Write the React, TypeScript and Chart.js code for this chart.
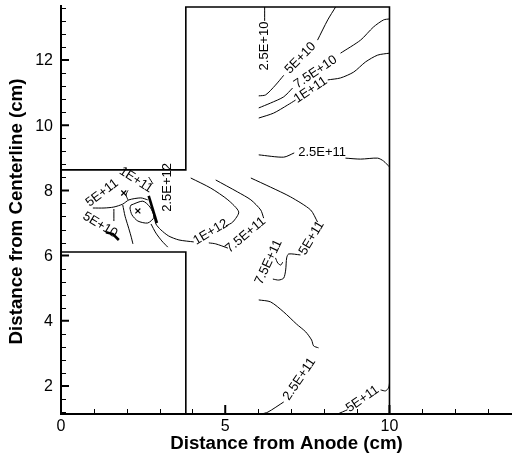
import React, { useEffect, useRef } from "react";
import { Chart, registerables } from "chart.js";
Chart.register(...registerables);

type P = [number, number];

// Axis ranges and ticks
const xMin = 0;
const xMax = 13.73;
const yMin = 1.141;
const yMax = 13.626;
const xMajorTicks = [0, 5, 10];
const xTickLabels = ["0", "5", "10"];
const xMinorTicks = [1, 2, 3, 4, 6, 7, 8, 9, 11, 12, 13];
const yMajorTicks = [2, 4, 6, 8, 10, 12];
const yTickLabels = ["2", "4", "6", "8", "10", "12"];
const yMinorTicks = [1.2, 1.6, 2.4, 2.8, 3.2, 3.6, 4.4, 4.8, 5.2, 5.6, 6.4, 6.8, 7.2, 7.6, 8.4, 8.8, 9.2, 9.6, 10.4, 10.8, 11.2, 11.6, 12.4, 12.8, 13.2, 13.6];
const xTitle = "Distance from Anode (cm)";
const yTitle = "Distance from Centerline (cm)";

// Geometry boundaries
const boundaryUpper: P[] = [[0, 8.63], [3.8, 8.63], [3.8, 13.626], [10, 13.626], [10, 1.141]];
const boundaryLower: P[] = [[0, 6.11], [3.8, 6.11], [3.8, 1.141]];

// Contour segments (gaps where labels sit)
const c25e10a: P[] = [[6.2, 13.626], [6.2, 13.2]];
const c5e10a: P[] = [[6.02, 10.9], [6.23, 10.93], [6.53, 11.23], [6.78, 11.53]];
const c5e10b: P[] = [[7.81, 12.61], [8.12, 13.23], [8.36, 13.626]];
const c75e10a: P[] = [[6.02, 10.53], [6.38, 10.68], [6.78, 10.87], [7.05, 11.14]];
const c75e10b: P[] = [[8.51, 12.21], [9.12, 12.61], [9.51, 13.01], [9.82, 13.23], [10.0, 13.26]];
const c1e11a: P[] = [[6.02, 10.22], [6.47, 10.37], [6.9, 10.62], [7.14, 10.77]];
const c1e11b: P[] = [[8.12, 11.39], [8.51, 11.45], [8.91, 11.63], [9.27, 11.94], [9.64, 12.15], [10.0, 12.21]];
const c25e11a: P[] = [[6.02, 9.09], [6.78, 9.02], [7.1, 9.15]];
const c25e11b: P[] = [[8.66, 8.99], [9.12, 8.96], [9.64, 8.99], [9.82, 8.9], [10.0, 8.72]];
const c5e11a: P[] = [[5.78, 8.38], [6.38, 8.1], [6.99, 7.8], [7.6, 7.4], [7.81, 7.03]];
const c5e11b: P[] = [[7.29, 6.02], [6.93, 6.05], [6.87, 5.93], [6.84, 5.56], [6.78, 5.31], [6.63, 5.25], [6.45, 5.28]];
const c75e11loop: P[] = [[6.53, 5.93], [6.6, 5.77], [6.69, 5.71], [6.75, 5.8]];
const c75e11a: P[] = [[4.71, 8.32], [5.38, 7.95], [5.78, 7.71], [6.08, 7.4], [6.17, 7.15]];
const c75e11b: P[] = [[5.08, 6.23], [4.71, 6.36], [4.5, 6.39]];
const c1e12a: P[] = [[3.95, 8.38], [4.56, 8.07], [5.08, 7.71], [5.41, 7.34], [5.23, 7.03], [5.02, 6.91]];
const c1e12b: P[] = [[4.04, 6.42], [3.59, 6.48], [3.28, 6.6], [3.04, 6.79], [2.89, 6.97], [2.83, 7.25]];
const c25e11c: P[] = [[6.02, 4.64], [6.38, 4.58], [6.78, 4.27], [7.17, 3.9], [7.45, 3.66], [7.63, 3.41], [7.69, 3.23], [7.84, 3.17]];
const c25e11d: P[] = [[6.78, 1.51], [6.3, 1.2], [6.1, 1.141]];
const c5e11c: P[] = [[8.42, 1.141], [8.72, 1.27]];
const c5e11d: P[] = [[9.73, 1.88], [9.88, 1.85], [9.97, 1.94], [10.0, 2.09], [10.0, 2.18]];
// Dense cluster near the anode
const k1: P[] = [[0.97, 7.46], [1.31, 7.46], [1.61, 7.49], [1.88, 7.58], [2.07, 7.71], [2.43, 7.77], [2.64, 7.71]];
const k2: P[] = [[2.04, 7.71], [1.98, 7.86], [2.04, 8.0]];
const k3: P[] = [[1.61, 7.43], [1.61, 7.06]];
const k4: P[] = [[1.88, 7.55], [1.95, 7.21], [2.04, 6.91], [2.13, 6.6], [2.19, 6.36]];
const k5: P[] = [[2.13, 7.55], [2.49, 7.67], [2.71, 7.49], [2.83, 7.18], [2.64, 7.0], [2.34, 7.06], [2.16, 7.25], [2.1, 7.46], [2.13, 7.55]];
const k6: P[] = [[2.67, 7.83], [2.92, 7.0]];
const k7: P[] = [[2.74, 6.97], [2.89, 6.69], [3.07, 6.45], [3.25, 6.26]];
const k8: P[] = [[2.67, 8.41], [2.8, 8.2]];
const k9: P[] = [[1.37, 6.72], [1.58, 6.66], [1.76, 6.48]];
const extremaMarks: P[] = [[1.91, 7.92], [2.34, 7.37]];

// Contour labels: text, x, y, angle(deg)
const labelTexts = ["2.5E+10", "5E+10", "7.5E+10", "1E+11", "2.5E+11", "5E+11", "7.5E+11", "7.5E+11", "1E+12", "2.5E+12", "2.5E+11", "5E+11", "5E+11", "1E+11", "5E+10"];
const labelX = [6.2, 7.29, 7.75, 7.6, 7.95, 7.63, 6.32, 5.62, 4.56, 3.25, 7.26, 9.18, 1.25, 2.28, 1.19];
const labelY = [12.43, 12.06, 11.63, 11.08, 9.15, 6.54, 5.8, 6.63, 6.72, 8.09, 2.21, 1.6, 7.92, 8.32, 6.94];
const labelAngle = [-90, -46, -34, -34, 0, -59, -65, -40, -31, -90, -56, -35, -37, 33, 31];

const contours: P[][] = [c25e10a, c5e10a, c5e10b, c75e10a, c75e10b, c1e11a, c1e11b, c25e11a, c25e11b, c5e11a, c5e11b, c75e11loop, c75e11a, c75e11b, c1e12a, c1e12b, c25e11c, c25e11d, c5e11c, c5e11d, k1, k2, k3, k4, k5, k7, k8];
const thick: P[][] = [k6, k9];

const FONT = "'Liberation Sans', Arial, Helvetica, sans-serif";

const decor = {
  id: "decor",
  afterDatasetsDraw(chart: any) {
    const { ctx, chartArea: a, scales } = chart;
    const xs = scales.x;
    const ys = scales.y;
    ctx.save();
    ctx.strokeStyle = "#000";
    ctx.fillStyle = "#000";
    // axis lines
    ctx.lineWidth = 2;
    ctx.beginPath();
    ctx.moveTo(a.left, a.top - 2);
    ctx.lineTo(a.left, a.bottom + 1);
    ctx.moveTo(a.left - 1, a.bottom);
    ctx.lineTo(a.right, a.bottom);
    ctx.stroke();
    // major ticks
    ctx.lineWidth = 2;
    ctx.beginPath();
    xMajorTicks.forEach((v) => {
      const px = xs.getPixelForValue(v);
      ctx.moveTo(px, a.bottom);
      ctx.lineTo(px, a.bottom - 9);
    });
    yMajorTicks.forEach((v) => {
      const py = ys.getPixelForValue(v);
      ctx.moveTo(a.left, py);
      ctx.lineTo(a.left + 8, py);
    });
    ctx.stroke();
    ctx.lineWidth = 1;
    ctx.beginPath();
    xMinorTicks.forEach((v) => {
      const px = Math.round(xs.getPixelForValue(v)) + 0.5;
      ctx.moveTo(px, a.bottom);
      ctx.lineTo(px, a.bottom - 5);
    });
    yMinorTicks.forEach((v) => {
      const py = Math.round(ys.getPixelForValue(v)) + 0.5;
      ctx.moveTo(a.left, py);
      ctx.lineTo(a.left + 5, py);
    });
    ctx.stroke();
    // tick labels
    ctx.font = `16px ${FONT}`;
    ctx.textBaseline = "middle";
    ctx.textAlign = "right";
    yMajorTicks.forEach((v, i) => {
      ctx.fillText(yTickLabels[i], a.left - 8, ys.getPixelForValue(v) + 1);
    });
    ctx.textAlign = "center";
    xMajorTicks.forEach((v, i) => {
      ctx.fillText(xTickLabels[i], xs.getPixelForValue(v), a.bottom + 13);
    });
    // titles
    ctx.font = `bold 18.7px ${FONT}`;
    ctx.fillText(xTitle, (a.left + a.right) / 2, a.bottom + 30);
    ctx.save();
    ctx.translate(17, (a.top + a.bottom) / 2 + 1);
    ctx.rotate(-Math.PI / 2);
    ctx.fillText(yTitle, 0, 0);
    ctx.restore();
    // contour labels
    ctx.font = `13px ${FONT}`;
    labelTexts.forEach((t, i) => {
      ctx.save();
      ctx.translate(xs.getPixelForValue(labelX[i]), ys.getPixelForValue(labelY[i]));
      ctx.rotate((labelAngle[i] * Math.PI) / 180);
      ctx.fillText(t, 0, 0);
      ctx.restore();
    });
    ctx.restore();
  },
};

const toPts = (arr: P[]) => arr.map(([x, y]) => ({ x, y }));

export default function App() {
  const ref = useRef<HTMLCanvasElement | null>(null);
  useEffect(() => {
    document.body.style.margin = "0";
    if (!ref.current) return;
    const lineDs = (arr: P[], w: number, tension: number, clip: any) => ({
      data: toPts(arr),
      showLine: true,
      borderColor: "#000",
      backgroundColor: "#000",
      borderWidth: w,
      pointRadius: 0,
      tension,
      fill: false,
      clip,
    });
    const datasets: any[] = [
      lineDs(boundaryUpper, 1.6, 0, 4),
      lineDs(boundaryLower, 1.6, 0, 4),
      ...contours.map((c) => lineDs(c, 1, 0.25, 2)),
      ...thick.map((c) => lineDs(c, 2.6, 0, 2)),
      {
        data: toPts(extremaMarks),
        showLine: false,
        pointStyle: "crossRot",
        pointRadius: 3.5,
        borderColor: "#000",
        borderWidth: 1.2,
      },
    ];
    const chart = new Chart(ref.current, {
      type: "scatter",
      data: { datasets },
      options: {
        animation: false,
        responsive: false,
        maintainAspectRatio: false,
        layout: { autoPadding: false, padding: { left: 61, top: 7, right: 0, bottom: 45 } },
        plugins: { legend: { display: false }, tooltip: { enabled: false } },
        scales: {
          x: { type: "linear", min: xMin, max: xMax, display: false },
          y: { type: "linear", min: yMin, max: yMax, display: false },
        },
      },
      plugins: [decor],
    });
    return () => chart.destroy();
  }, []);
  return (
    <div style={{ width: 512, height: 459, background: "#fff" }}>
      <canvas ref={ref} width={512} height={459} style={{ width: 512, height: 459, display: "block" }} />
    </div>
  );
}
